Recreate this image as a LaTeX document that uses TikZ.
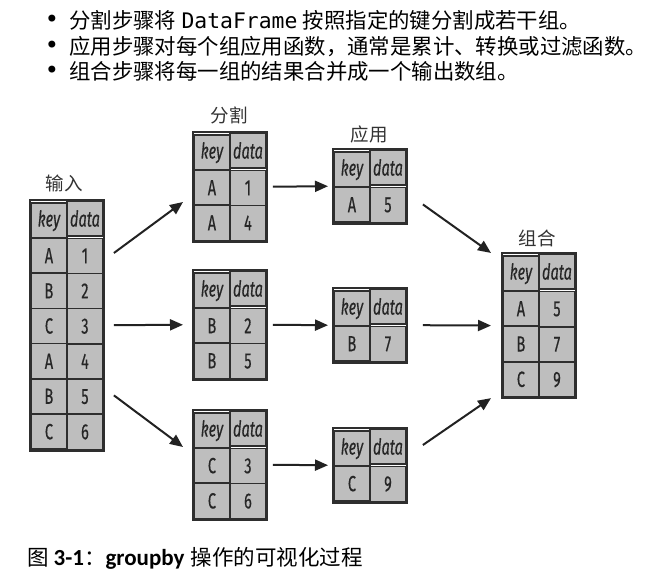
\documentclass[tikz,border=0pt]{standalone}
\usepackage{fontspec}
\usetikzlibrary{matrix,arrows.meta}
\newfontfamily\cjk{Noto Sans CJK SC}
\newfontfamily\cellfont[FakeStretch=0.66,FakeBold=0.4]{Fira Sans}
\newfontfamily\monofont{DejaVu Sans Mono}
\newfontfamily\carlito{Carlito}
\newfontfamily\dejavu{DejaVu Sans}
\definecolor{cellgray}{HTML}{BEBEBE}
\definecolor{edgecol}{HTML}{2E2E2E}
\definecolor{celltext}{HTML}{262626}
\definecolor{arrcol}{HTML}{222222}
\definecolor{lblcol}{HTML}{333333}
\pgfdeclarelayer{bg}
\pgfsetlayers{bg,main}
\newcommand\tabshadow[1]{%
  \begin{pgfonlayer}{bg}
  \foreach \d/\o in {6/0.04,4.5/0.06,3/0.08,1.5/0.10}{%
    \fill[black,opacity=\o,rounded corners=2pt]
      ([shift={(3-\d,3-\d)}]#1.north west) rectangle ([shift={(3+\d,3+\d)}]#1.south east);
  }
  \end{pgfonlayer}}
\tikzset{
  cell/.style={draw=edgecol, line width=1.5pt, fill=cellgray, minimum width=36pt,
    minimum height=35pt, inner sep=0pt, text=celltext,
    font=\cellfont\fontsize{22}{22}\selectfont},
  tbl/.style={matrix of nodes, nodes={cell}, column sep=-1.5pt, row sep=-1.5pt,
    inner sep=0pt, anchor=north west,
    row 1/.style={nodes={font=\cellfont\itshape\fontsize{22}{22}\selectfont}}},
  tframe/.style={draw=edgecol, line width=2.4pt},
  lbl/.style={font=\cjk\fontsize{18.5}{18.5}\selectfont, text=lblcol, inner sep=0pt},
  arr/.style={draw=arrcol, line width=2pt, -{Triangle[length=13pt,width=11pt]}},
  bullettext/.style={anchor=base west, inner sep=0pt, font=\cjk\fontsize{21.4}{22}\selectfont},
  bulletdot/.style={inner sep=0pt, font=\dejavu\fontsize{24}{24}\selectfont},
}
\begin{document}
\begin{tikzpicture}[x=1pt,y=-1pt]
\useasboundingbox (0,0) rectangle (647,580);
\fill[white] (0,0) rectangle (647,580);

% bullets
\node[bulletdot] (d1) at (52,21) {•};
\node[bulletdot] (d2) at (52,47) {•};
\node[bulletdot] (d3) at (52,72) {•};
\node[bullettext] (t1) at (69,29) {分割步骤将\hspace{0.25em}{\monofont DataFrame}\hspace{0.25em}按照指定的键分割成若干组。};
\node[bullettext] (t2) at (69,55) {应用步骤对每个组应用函数，通常是累计、转换或过滤函数。};
\node[bullettext] (t3) at (69,80) {组合步骤将每一组的结果合并成一个输出数组。};

% input table
\matrix (in) [tbl] at (30,200) {
  key & data \\ A & 1 \\ B & 2 \\ C & 3 \\ A & 4 \\ B & 5 \\ C & 6 \\ };
\draw[tframe] (in.north west) rectangle (in.south east);
\tabshadow{in}
\node[lbl] (lin) at (64,183) {输入};

% split tables
\matrix (s1) [tbl] at (193,132) { key & data \\ A & 1 \\ A & 4 \\ };
\draw[tframe] (s1.north west) rectangle (s1.south east);
\tabshadow{s1}
\matrix (s2) [tbl] at (193,270) { key & data \\ B & 2 \\ B & 5 \\ };
\draw[tframe] (s2.north west) rectangle (s2.south east);
\tabshadow{s2}
\matrix (s3) [tbl] at (193,410) { key & data \\ C & 3 \\ C & 6 \\ };
\draw[tframe] (s3.north west) rectangle (s3.south east);
\tabshadow{s3}
\node[lbl] (lsplit) at (229,115) {分割};

% apply tables
\matrix (a1) [tbl] at (333,149) { key & data \\ A & 5 \\ };
\draw[tframe] (a1.north west) rectangle (a1.south east);
\tabshadow{a1}
\matrix (a2) [tbl] at (333,288) { key & data \\ B & 7 \\ };
\draw[tframe] (a2.north west) rectangle (a2.south east);
\tabshadow{a2}
\matrix (a3) [tbl] at (333,428) { key & data \\ C & 9 \\ };
\draw[tframe] (a3.north west) rectangle (a3.south east);
\tabshadow{a3}
\node[lbl] (lapply) at (369,134) {应用};

% combine table
\matrix (c) [tbl] at (502,253) { key & data \\ A & 5 \\ B & 7 \\ C & 9 \\ };
\draw[tframe] (c.north west) rectangle (c.south east);
\tabshadow{c}
\node[lbl] (lcomb) at (537,238) {组合};

% arrows input -> split
\draw[arr] ([shift={(10,53)}]in.north east) -- ([shift={(-10,70)}]s1.north west);
\draw[arr] ([xshift=10pt]in.east) -- ([xshift=-10pt]s2.west);
\draw[arr] ([shift={(10,-55)}]in.south east) -- ([shift={(-10,37)}]s3.north west);
% split -> apply
\draw[arr] ([xshift=6pt]s1.east) -- ([xshift=-5pt]a1.west);
\draw[arr] ([xshift=6pt]s2.east) -- ([xshift=-5pt]a2.west);
\draw[arr] ([xshift=6pt]s3.east) -- ([xshift=-5pt]a3.west);
% apply -> combine
\draw[arr] ([shift={(16,-19)}]a1.south east) -- ([xshift=-11pt]c.north west);
\draw[arr] ([xshift=16pt]a2.east) -- ([xshift=-11pt]c.west);
\draw[arr] ([shift={(16,17)}]a3.north east) -- ([xshift=-11pt]c.south west);

% caption
\node[anchor=base west, inner sep=0pt] (cap) at (27,565)
  {{\cjk\fontsize{21.5}{21.5}\selectfont 图}\hspace{5pt}{\carlito\bfseries\fontsize{23}{23}\selectfont 3-1}{\cjk\fontsize{21.5}{21.5}\selectfont ：}{\carlito\bfseries\fontsize{23}{23}\selectfont groupby}\hspace{6pt}{\cjk\fontsize{21.5}{21.5}\selectfont 操作的可视化过程}};
\end{tikzpicture}
\end{document}
